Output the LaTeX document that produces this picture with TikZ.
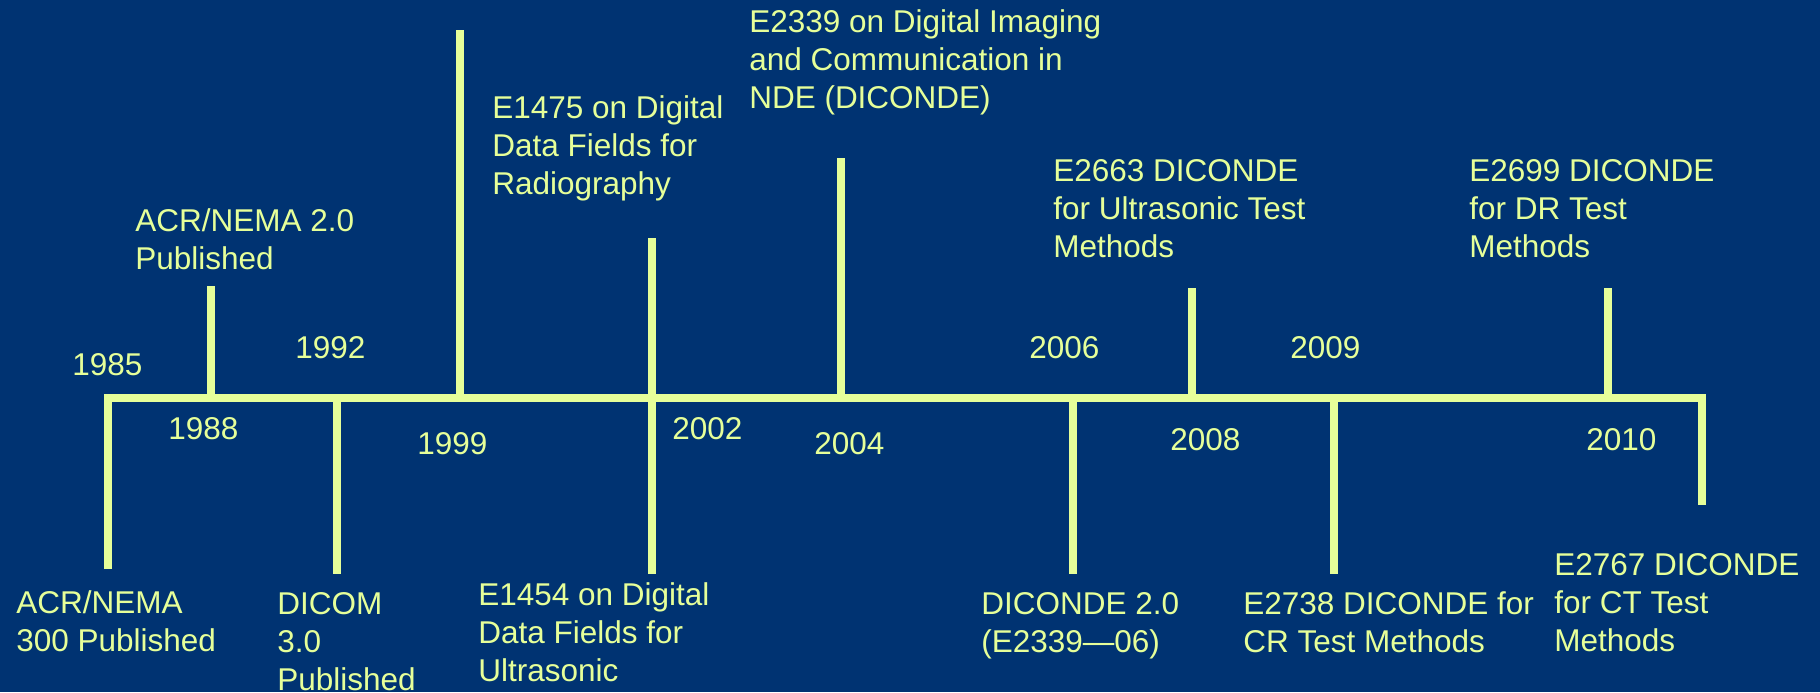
\documentclass[tikz,border=0pt]{standalone}
\usepackage{fontspec}
\setmainfont{Liberation Sans}
\usepackage{xcolor}
\definecolor{bgblue}{RGB}{0,51,114}
\definecolor{limey}{RGB}{230,255,153}

\begin{document}
\begin{tikzpicture}[x=0.025cm, y=-0.025cm,
    lbl/.style={anchor=base west, inner sep=0pt, align=left, text=limey, font=\fontsize{22.4}{27}\selectfont},
    bar/.style={draw=limey, line width=5.5pt}]
    \useasboundingbox (0,0) rectangle (1820,692);
    \fill[bgblue] (0,0) rectangle (1820,692);
    \clip (0,0) rectangle (1820,692);
    \def\axis{398}

    \coordinate (a1985) at (108,\axis);  \coordinate (d1985) at (108,569);
    \coordinate (a1988) at (211,\axis);  \coordinate (u1988) at (211,286);
    \coordinate (a1992) at (337,\axis);  \coordinate (d1992) at (337,574);
    \coordinate (a1999) at (460,\axis);  \coordinate (u1999) at (460,30);
    \coordinate (a2002) at (652,\axis);  \coordinate (u2002) at (652,238);
    \coordinate (d2002) at (652,574);
    \coordinate (a2004) at (841,\axis);  \coordinate (u2004) at (841,158);
    \coordinate (a2006) at (1073,\axis); \coordinate (d2006) at (1073,574);
    \coordinate (a2008) at (1192,\axis); \coordinate (u2008) at (1192,288);
    \coordinate (a2009) at (1334,\axis); \coordinate (d2009) at (1334,574);
    \coordinate (b2010) at (1608,\axis); \coordinate (u2010) at (1608,288);
    \coordinate (a2010) at (1702,\axis); \coordinate (d2010) at (1702,505);

    \draw[bar, line join=miter] (d1985) -- (a1985) -- (a2010) -- (d2010);
    \draw[bar] (a1988) -- (u1988)
               (a1992) -- (d1992)
               (a1999) -- (u1999)
               (u2002) -- (d2002)
               (a2004) -- (u2004)
               (a2006) -- (d2006)
               (a2008) -- (u2008)
               (a2009) -- (d2009)
               (b2010) -- (u2010);

    \node[lbl] (y1985) at (72,375) {1985};
    \node[lbl] (y1988) at (168,439) {1988};
    \node[lbl] (y1992) at (295,358) {1992};
    \node[lbl] (y1999) at (417,454) {1999};
    \node[lbl] (y2002) at (672,439) {2002};
    \node[lbl] (y2004) at (814,454) {2004};
    \node[lbl] (y2006) at (1029,358) {2006};
    \node[lbl] (y2008) at (1170,450) {2008};
    \node[lbl] (y2009) at (1290,358) {2009};
    \node[lbl] (y2010) at (1586,450) {2010};

    % base west = baseline of the last line
    \node[lbl] (acr2) at (135,269) {ACR/NEMA 2.0\\Published};
    \node[lbl] (e1475) at (492,194) {E1475 on Digital\\Data Fields for\\Radiography};
    \node[lbl] (e2339) at (749,108) {E2339 on Digital Imaging\\and Communication in\\NDE (DICONDE)};
    \node[lbl] (e2663) at (1053,257) {E2663 DICONDE\\for Ultrasonic Test\\Methods};
    \node[lbl] (e2699) at (1469,257) {E2699 DICONDE\\for DR Test\\Methods};
    \node[lbl] (acr300) at (16,651) {ACR/NEMA\\300 Published};
    \node[lbl] (dicom) at (277,690) {DICOM\\3.0\\Published};
    \node[lbl] (e1454) at (478,681) {E1454 on Digital\\Data Fields for\\Ultrasonic};
    \node[lbl] (dic2) at (981,652) {DICONDE 2.0\\(E2339—06)};
    \node[lbl] (e2738) at (1243,652) {E2738 DICONDE for\\CR Test Methods};
    \node[lbl] (e2767) at (1554,651) {E2767 DICONDE\\for CT Test\\Methods};
\end{tikzpicture}
\end{document}
